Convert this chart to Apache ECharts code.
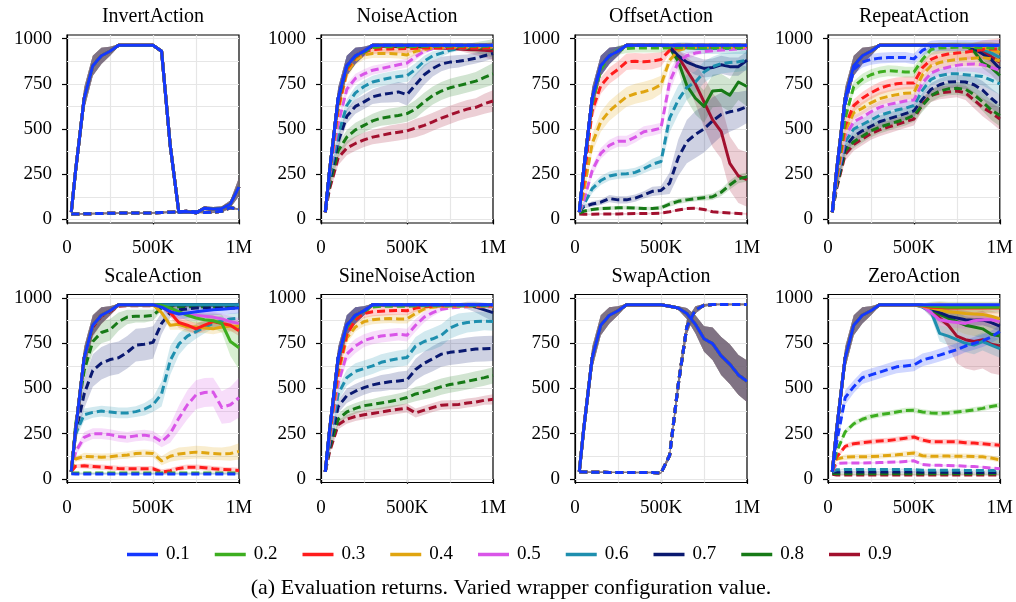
<!DOCTYPE html>
<html>
<head>
<meta charset="utf-8">
<script src="https://cdn.jsdelivr.net/npm/echarts@6/dist/echarts.min.js"></script>
<style>
  html, body { margin: 0; padding: 0; background: #fff; }
  #chart { width: 1016px; height: 602px; }
</style>
</head>
<body>
<div id="chart"></div>
<script>
// Evaluation checkpoints (environment steps)
const steps = [25000, 50000, 100000, 150000, 200000, 250000, 300000, 350000, 400000, 450000, 500000,
               550000, 600000, 650000, 700000, 750000, 800000, 850000, 900000, 950000, 1000000];
const configs = ['0.1', '0.2', '0.3', '0.4', '0.5', '0.6', '0.7', '0.8', '0.9'];
const panelTitles = ['InvertAction', 'NoiseAction', 'OffsetAction', 'RepeatAction',
                     'ScaleAction', 'SineNoiseAction', 'SwapAction', 'ZeroAction'];
const yTickValues = [0, 250, 500, 750, 1000];
const xTickValues = [0, 500000, 1000000];
const xTickLabels = ['0', '500K', '1M'];
const yGridValues = [0, 125, 250, 375, 500, 625, 750, 875, 1000];
const xGridValues = [250000, 500000, 750000];

// Shared learning curve of the unwrapped evaluation
const baseSolid = [40, 270, 670, 850, 905, 930, 963, 963, 963, 963, 963, 963, 963, 963, 963, 963, 963, 963, 963, 963, 963];

// Standard deviations (half band widths)
const spBase   = [4, 50, 60, 55, 45, 25, 6, 4, 4, 4, 4, 4, 4, 4, 4, 4, 4, 4, 4, 4, 4];
const spTight  = [3, 4, 5, 5, 5, 5, 5, 5, 5, 5, 5, 5, 5, 5, 5, 5, 5, 5, 5, 5, 5];
const spSmall  = [3, 10, 15, 15, 15, 15, 15, 15, 15, 15, 15, 15, 15, 15, 15, 15, 15, 15, 15, 15, 15];
const spMid    = [3, 20, 30, 30, 30, 30, 30, 30, 30, 30, 30, 30, 30, 30, 30, 30, 30, 30, 30, 30, 30];
const spWide   = [3, 25, 40, 40, 40, 40, 40, 42, 45, 45, 45, 50, 50, 50, 50, 50, 50, 50, 50, 55, 60];
const spRise   = [3, 20, 30, 30, 25, 25, 25, 25, 25, 25, 25, 20, 15, 10, 8, 6, 5, 5, 5, 5, 5];
const spLateS  = [4, 50, 60, 55, 45, 25, 6, 4, 4, 4, 4, 10, 25, 30, 30, 30, 30, 30, 30, 30, 30];
const spLateM  = [4, 50, 60, 55, 45, 25, 6, 4, 4, 4, 4, 10, 30, 45, 50, 50, 50, 50, 50, 50, 50];
const spLateL  = [4, 50, 60, 55, 45, 25, 6, 4, 4, 4, 4, 15, 50, 80, 90, 90, 90, 90, 90, 100, 110];
const spLateXL = [4, 50, 60, 55, 45, 25, 6, 4, 4, 4, 4, 10, 40, 70, 110, 140, 150, 150, 150, 150, 150];
const spEnd    = [4, 50, 60, 55, 45, 25, 6, 4, 4, 4, 4, 4, 4, 4, 4, 4, 8, 20, 30, 40, 50];

// InvertAction
const invertSolid = [40, 270, 670, 850, 905, 930, 963, 963, 963, 963, 963, 930, 410, 40, 42, 36, 62, 58, 60, 85, 180];
const invertSolidSpread = [4, 50, 60, 55, 45, 25, 6, 4, 4, 4, 4, 10, 20, 10, 6, 8, 10, 10, 12, 20, 50];
const invertDashed = [30, 30, 31, 32, 33, 34, 35, 35, 35, 35, 36, 38, 40, 42, 45, 42, 38, 40, 45, 65, 55];

// SwapAction
const swapSolid = [40, 270, 670, 850, 905, 930, 963, 963, 963, 963, 963, 955, 945, 915, 855, 775, 748, 680, 635, 575, 540];
const swapSolidSpread = [4, 50, 60, 55, 45, 25, 6, 4, 4, 4, 4, 5, 10, 30, 50, 70, 90, 105, 110, 110, 115];
const swapDashed = [40, 38, 37, 37, 36, 36, 36, 35, 35, 35, 32, 130, 520, 840, 935, 960, 965, 965, 965, 965, 965];
const swapDashedSpread = [3, 4, 4, 4, 4, 4, 4, 4, 4, 4, 4, 20, 40, 40, 20, 8, 5, 5, 5, 5, 5];

// NoiseAction
const noiseSolid8 = [40, 270, 670, 850, 905, 930, 960, 960, 960, 958, 958, 958, 956, 955, 955, 953, 952, 950, 950, 948, 946];
const noiseSolid9 = [40, 270, 670, 850, 905, 930, 955, 958, 958, 955, 955, 955, 952, 950, 948, 945, 942, 940, 938, 935, 932];
const noiseDashed2 = [40, 270, 650, 840, 900, 925, 950, 955, 955, 955, 955, 957, 958, 958, 958, 958, 958, 958, 958, 958, 958];
const noiseDashed3 = [40, 265, 620, 830, 895, 925, 940, 942, 943, 944, 945, 947, 948, 948, 948, 948, 948, 948, 948, 948, 948];
const noiseDashed4 = [40, 260, 600, 810, 880, 910, 918, 918, 918, 915, 910, 930, 940, 948, 950, 952, 952, 952, 952, 952, 952];
const noiseDashed5 = [40, 250, 530, 720, 780, 805, 825, 835, 845, 855, 865, 900, 930, 945, 950, 955, 955, 955, 955, 955, 955];
const noiseDashed6 = [40, 230, 470, 630, 700, 735, 760, 772, 782, 790, 795, 830, 875, 905, 920, 935, 945, 948, 950, 950, 950];
const noiseDashed7 = [40, 210, 430, 570, 625, 650, 678, 690, 697, 705, 690, 745, 800, 835, 860, 870, 875, 882, 892, 905, 918];
const noiseDashed8 = [40, 190, 380, 455, 495, 520, 545, 560, 568, 575, 585, 610, 650, 685, 710, 728, 740, 752, 765, 785, 805];
const noiseDashed9 = [40, 170, 340, 395, 420, 440, 455, 465, 475, 482, 490, 505, 520, 540, 560, 578, 595, 610, 620, 640, 655];
const noiseSpread6 = [3, 20, 35, 35, 35, 35, 35, 35, 35, 35, 35, 35, 30, 25, 20, 15, 12, 10, 10, 10, 10];
const noiseSpread7 = [3, 25, 40, 40, 40, 40, 40, 45, 50, 55, 60, 60, 55, 45, 40, 35, 35, 30, 30, 30, 30];

// OffsetAction
const offsetSolid6 = [40, 270, 670, 850, 905, 930, 963, 963, 963, 963, 963, 960, 955, 950, 945, 945, 945, 945, 945, 945, 945];
const offsetSolid7 = [40, 270, 670, 850, 905, 930, 963, 963, 963, 963, 963, 950, 905, 870, 850, 835, 840, 855, 845, 845, 880];
const offsetSolid8 = [40, 270, 670, 850, 905, 930, 963, 963, 963, 963, 963, 950, 875, 740, 670, 625, 710, 715, 687, 760, 735];
const offsetSolid9 = [40, 270, 670, 850, 905, 930, 963, 963, 963, 963, 963, 960, 900, 825, 750, 650, 550, 485, 310, 240, 220];
const offsetDashed2 = [40, 260, 640, 830, 905, 935, 945, 948, 948, 948, 948, 950, 950, 950, 950, 950, 950, 950, 950, 950, 950];
const offsetDashed3 = [40, 200, 600, 740, 795, 830, 872, 875, 872, 875, 885, 935, 948, 952, 955, 955, 955, 955, 955, 955, 955];
const offsetDashed4 = [40, 150, 420, 540, 600, 640, 678, 695, 706, 720, 745, 880, 935, 948, 950, 952, 952, 952, 952, 952, 952];
const offsetDashed5 = [40, 100, 270, 365, 410, 432, 432, 455, 485, 493, 505, 760, 870, 905, 920, 928, 933, 937, 940, 943, 946];
const offsetDashed6 = [40, 80, 170, 215, 240, 250, 252, 260, 280, 305, 320, 560, 660, 730, 760, 815, 845, 862, 868, 872, 880];
const offsetDashed7 = [40, 70, 85, 95, 115, 108, 108, 118, 135, 155, 160, 200, 340, 430, 470, 500, 545, 580, 595, 605, 623];
const offsetDashed8 = [35, 45, 55, 60, 62, 64, 65, 63, 60, 60, 65, 85, 100, 108, 115, 120, 125, 150, 190, 225, 235];
const offsetDashed9 = [30, 28, 28, 30, 30, 30, 31, 32, 32, 33, 35, 42, 52, 60, 62, 55, 42, 38, 35, 33, 30];
const offsetSpread3 = [3, 30, 45, 45, 45, 45, 45, 45, 45, 45, 40, 20, 10, 8, 6, 5, 5, 5, 5, 5, 5];
const offsetSpread4 = [3, 30, 50, 55, 55, 55, 55, 55, 55, 55, 50, 30, 10, 8, 6, 5, 5, 5, 5, 5, 5];
const offsetSpread5 = [3, 20, 30, 30, 30, 30, 30, 30, 30, 30, 30, 60, 40, 20, 15, 12, 10, 10, 10, 10, 10];
const offsetSpread6 = [3, 15, 25, 25, 25, 25, 25, 25, 25, 30, 35, 80, 80, 70, 60, 60, 55, 55, 55, 55, 55];
const offsetSpread7 = [3, 10, 15, 15, 20, 20, 20, 20, 20, 25, 25, 60, 100, 120, 130, 130, 130, 120, 110, 100, 90];
const offsetSpread8 = [3, 8, 10, 10, 10, 10, 10, 10, 10, 10, 12, 15, 15, 15, 15, 15, 18, 20, 25, 25, 25];

// RepeatAction
const repeatSolid4 = [40, 270, 670, 850, 905, 930, 963, 963, 963, 963, 963, 963, 963, 963, 963, 963, 963, 958, 950, 940, 924];
const repeatSolid6 = [40, 270, 670, 850, 905, 930, 963, 963, 963, 963, 963, 963, 963, 963, 963, 963, 960, 955, 940, 920, 896];
const repeatSolid7 = [40, 270, 670, 850, 905, 930, 963, 963, 963, 963, 963, 963, 963, 963, 963, 963, 960, 945, 915, 885, 833];
const repeatSolid8 = [40, 270, 670, 850, 905, 930, 963, 963, 963, 963, 963, 963, 963, 963, 963, 963, 960, 930, 866, 840, 796];
const repeatSolid9 = [40, 270, 670, 850, 905, 930, 963, 963, 963, 963, 963, 963, 963, 963, 963, 963, 960, 950, 935, 900, 870];
const repeatDashed1 = [40, 260, 640, 830, 870, 885, 892, 895, 896, 896, 888, 935, 958, 962, 962, 962, 962, 962, 962, 962, 962];
const repeatDashed2 = [40, 240, 560, 735, 775, 800, 815, 822, 820, 815, 815, 885, 940, 948, 950, 952, 952, 950, 950, 948, 945];
const repeatDashed3 = [40, 230, 520, 630, 670, 700, 725, 740, 750, 755, 755, 840, 885, 905, 915, 920, 925, 932, 940, 942, 942];
const repeatDashed4 = [40, 220, 490, 590, 615, 645, 668, 680, 690, 698, 700, 800, 850, 868, 878, 885, 888, 892, 895, 888, 878];
const repeatDashed5 = [40, 210, 460, 540, 565, 595, 620, 635, 645, 655, 660, 755, 810, 830, 842, 852, 858, 860, 855, 840, 825];
const repeatDashed6 = [40, 200, 430, 500, 525, 550, 575, 590, 605, 615, 630, 715, 775, 795, 805, 805, 800, 795, 790, 770, 750];
const repeatDashed7 = [40, 190, 400, 460, 490, 515, 540, 555, 570, 585, 600, 665, 720, 745, 760, 762, 760, 745, 715, 670, 630];
const repeatDashed8 = [40, 180, 380, 430, 460, 490, 510, 525, 540, 555, 575, 630, 685, 710, 722, 725, 720, 690, 650, 605, 575];
const repeatDashed9 = [40, 170, 360, 415, 445, 475, 495, 510, 525, 540, 555, 640, 685, 700, 705, 710, 700, 660, 620, 590, 555];
const repeatSpread = [3, 25, 35, 35, 35, 35, 35, 35, 35, 35, 35, 35, 35, 35, 35, 35, 40, 45, 50, 55, 60];

// ScaleAction
const scaleSolid1 = [40, 270, 670, 850, 905, 930, 963, 963, 963, 963, 963, 950, 925, 912, 918, 925, 930, 935, 938, 942, 946];
const scaleSolid2 = [40, 270, 670, 850, 905, 930, 963, 963, 963, 963, 963, 960, 945, 925, 905, 890, 880, 875, 860, 760, 725];
const scaleSolid3 = [40, 270, 670, 850, 905, 930, 963, 963, 963, 963, 963, 955, 920, 865, 850, 830, 850, 870, 860, 850, 820];
const scaleSolid4 = [40, 270, 670, 850, 905, 930, 963, 963, 963, 963, 963, 920, 850, 855, 840, 840, 835, 830, 840, 845, 845];
const scaleSolid5 = [40, 270, 670, 850, 905, 930, 963, 963, 963, 963, 963, 955, 935, 920, 910, 905, 900, 895, 885, 870, 860];
const scaleSolidSpread2 = [4, 50, 60, 55, 45, 25, 6, 4, 4, 4, 4, 10, 20, 25, 30, 30, 35, 40, 50, 80, 120];
const scaleDashed1 = [28, 27, 27, 27, 27, 27, 27, 27, 27, 27, 27, 27, 27, 27, 27, 27, 27, 27, 27, 27, 27];
const scaleDashed2 = [32, 32, 32, 32, 32, 32, 32, 32, 32, 32, 32, 32, 32, 32, 32, 32, 32, 32, 32, 32, 32];
const scaleDashed3 = [40, 70, 72, 68, 65, 62, 58, 56, 56, 56, 56, 38, 45, 58, 65, 65, 62, 56, 52, 50, 46];
const scaleDashed4 = [40, 110, 125, 122, 120, 122, 128, 132, 140, 143, 140, 100, 125, 138, 143, 148, 145, 140, 138, 140, 152];
const scaleDashed5 = [40, 150, 230, 250, 250, 245, 235, 230, 238, 242, 235, 205, 250, 335, 410, 465, 478, 480, 395, 410, 450];
const scaleDashed6 = [40, 250, 355, 368, 375, 370, 365, 365, 372, 385, 410, 470, 655, 745, 790, 815, 840, 860, 875, 885, 890];
const scaleDashed7 = [40, 250, 470, 600, 640, 660, 670, 700, 740, 745, 755, 860, 920, 935, 940, 945, 945, 945, 945, 945, 945];
const scaleDashed8 = [40, 300, 600, 760, 810, 825, 870, 895, 900, 900, 905, 945, 950, 952, 952, 952, 952, 952, 952, 952, 952];
const scaleDashed9 = [40, 270, 660, 840, 900, 925, 955, 958, 958, 958, 958, 958, 958, 958, 958, 958, 958, 958, 958, 958, 958];
const scaleSpread4 = [3, 15, 20, 20, 20, 20, 20, 20, 20, 20, 20, 25, 30, 35, 35, 35, 35, 35, 35, 40, 45];
const scaleSpread5 = [3, 20, 30, 30, 30, 30, 30, 30, 30, 30, 30, 30, 50, 70, 80, 80, 80, 80, 90, 100, 110];
const scaleSpread6 = [3, 30, 35, 30, 30, 30, 30, 30, 30, 35, 40, 70, 80, 60, 50, 40, 35, 30, 30, 30, 30];
const scaleSpread7 = [3, 50, 80, 90, 90, 90, 90, 90, 90, 90, 90, 60, 30, 15, 10, 8, 8, 8, 8, 8, 8];
const scaleSpread8 = [3, 40, 60, 60, 60, 60, 50, 40, 35, 35, 30, 15, 10, 8, 6, 5, 5, 5, 5, 5, 5];

// SineNoiseAction
const sineSolid7 = [40, 270, 670, 850, 905, 930, 963, 963, 963, 963, 963, 963, 963, 963, 963, 963, 963, 960, 950, 935, 920];
const sineDashed2 = [40, 265, 650, 840, 900, 928, 950, 955, 955, 955, 955, 958, 958, 958, 958, 958, 958, 958, 958, 958, 958];
const sineDashed3 = [40, 250, 600, 800, 880, 915, 925, 928, 930, 932, 930, 945, 952, 955, 958, 958, 958, 958, 958, 958, 958];
const sineDashed4 = [40, 240, 580, 780, 840, 870, 880, 885, 887, 885, 885, 915, 940, 950, 955, 955, 955, 955, 955, 955, 955];
const sineDashed5 = [40, 220, 530, 690, 735, 765, 780, 790, 795, 800, 795, 850, 895, 920, 938, 945, 950, 952, 952, 952, 952];
const sineDashed6 = [40, 200, 470, 560, 595, 610, 625, 645, 656, 665, 672, 735, 760, 775, 795, 835, 855, 865, 870, 872, 870];
const sineDashed7 = [40, 180, 400, 460, 485, 505, 520, 530, 537, 542, 548, 605, 640, 665, 690, 700, 705, 712, 718, 720, 722];
const sineDashed8 = [40, 170, 330, 370, 390, 405, 412, 420, 428, 438, 450, 470, 480, 495, 510, 522, 530, 540, 550, 560, 572];
const sineDashed9 = [40, 150, 300, 330, 345, 355, 362, 370, 378, 385, 392, 365, 380, 395, 408, 410, 412, 420, 425, 435, 440];
const sineSpread5 = [3, 20, 35, 40, 40, 35, 35, 35, 35, 35, 35, 35, 30, 20, 12, 8, 6, 5, 5, 5, 5];
const sineSpread6 = [3, 30, 40, 45, 45, 45, 45, 45, 45, 45, 45, 50, 55, 60, 60, 60, 60, 55, 55, 50, 50];
const sineSpread7 = [3, 25, 35, 40, 40, 40, 40, 45, 45, 50, 50, 60, 65, 70, 70, 70, 70, 70, 70, 70, 70];
const sineSpread8 = [3, 20, 30, 30, 30, 30, 30, 35, 35, 35, 35, 40, 40, 45, 45, 45, 45, 45, 45, 45, 45];
const sineSpread9 = [3, 15, 25, 25, 25, 25, 25, 25, 25, 25, 25, 25, 25, 25, 25, 25, 25, 25, 25, 25, 28];

// ZeroAction
const zeroSolid2 = [40, 270, 670, 850, 905, 930, 963, 963, 963, 963, 963, 960, 955, 952, 950, 950, 950, 950, 950, 950, 950];
const zeroSolid3 = [40, 270, 670, 850, 905, 930, 963, 963, 963, 963, 963, 958, 950, 948, 945, 945, 945, 945, 945, 945, 945];
const zeroSolid4 = [40, 270, 670, 850, 905, 930, 963, 963, 963, 963, 963, 955, 945, 935, 925, 920, 915, 912, 910, 900, 885];
const zeroSolid5 = [40, 270, 670, 850, 905, 930, 963, 963, 963, 963, 963, 955, 920, 880, 870, 865, 860, 875, 880, 880, 870];
const zeroSolid6 = [40, 270, 670, 850, 905, 930, 963, 963, 963, 963, 963, 950, 925, 805, 790, 770, 750, 740, 760, 740, 720];
const zeroSolid7 = [40, 270, 670, 850, 905, 930, 963, 963, 963, 963, 963, 960, 940, 920, 900, 890, 880, 878, 880, 865, 845];
const zeroSolid8 = [40, 270, 670, 850, 905, 930, 963, 963, 963, 963, 963, 958, 935, 910, 890, 870, 850, 840, 830, 800, 790];
const zeroSolid9 = [40, 270, 670, 850, 905, 930, 963, 963, 963, 963, 963, 955, 930, 890, 850, 790, 770, 760, 770, 745, 735];
const zeroSolidSpread9 = [4, 50, 60, 55, 45, 25, 6, 4, 4, 4, 4, 8, 30, 60, 120, 150, 160, 160, 160, 160, 160];
const zeroDashed1 = [40, 200, 450, 510, 560, 575, 590, 605, 620, 625, 630, 658, 670, 685, 700, 715, 735, 750, 765, 785, 815];
const zeroDashed2 = [40, 150, 260, 305, 330, 345, 355, 362, 370, 378, 380, 370, 365, 362, 365, 370, 375, 382, 390, 400, 408];
const zeroDashed3 = [40, 120, 180, 195, 200, 205, 210, 212, 218, 225, 232, 215, 205, 205, 205, 205, 200, 198, 195, 190, 186];
const zeroDashed4 = [40, 110, 120, 122, 122, 124, 126, 130, 133, 138, 143, 128, 125, 126, 126, 125, 125, 124, 122, 115, 106];
const zeroDashed5 = [40, 85, 88, 88, 88, 89, 90, 92, 93, 96, 100, 80, 75, 75, 74, 73, 70, 68, 65, 60, 56];
const zeroDashed6 = [40, 50, 52, 52, 52, 52, 52, 52, 52, 52, 52, 48, 48, 48, 48, 48, 47, 47, 46, 46, 46];
const zeroDashed7 = [38, 38, 38, 38, 38, 38, 38, 38, 38, 38, 38, 37, 37, 37, 37, 36, 36, 36, 36, 36, 36];
const zeroDashed8 = [30, 28, 28, 28, 28, 28, 28, 28, 28, 28, 28, 28, 28, 28, 28, 28, 28, 28, 28, 28, 28];
const zeroDashed9 = [25, 22, 22, 22, 22, 22, 22, 22, 22, 22, 22, 22, 22, 22, 22, 22, 22, 22, 22, 22, 22];
const zeroSpread1 = [3, 30, 40, 35, 35, 35, 35, 35, 35, 35, 35, 35, 35, 35, 35, 35, 35, 35, 35, 35, 35];

// Per-panel tables, one entry per configuration value 0.1 ... 0.9
const panels = [
  { // InvertAction
    solid: [invertSolid, invertSolid, invertSolid, invertSolid, invertSolid, invertSolid, invertSolid, invertSolid, invertSolid],
    solidSpread: [invertSolidSpread, invertSolidSpread, invertSolidSpread, invertSolidSpread, invertSolidSpread, invertSolidSpread, invertSolidSpread, invertSolidSpread, invertSolidSpread],
    dashed: [invertDashed, invertDashed, invertDashed, invertDashed, invertDashed, invertDashed, invertDashed, invertDashed, invertDashed],
    dashedSpread: [spTight, spTight, spTight, spTight, spTight, spTight, spTight, spTight, spTight]
  },
  { // NoiseAction
    solid: [baseSolid, baseSolid, baseSolid, baseSolid, baseSolid, baseSolid, baseSolid, noiseSolid8, noiseSolid9],
    solidSpread: [spBase, spBase, spBase, spBase, spBase, spBase, spBase, spEnd, spEnd],
    dashed: [baseSolid, noiseDashed2, noiseDashed3, noiseDashed4, noiseDashed5, noiseDashed6, noiseDashed7, noiseDashed8, noiseDashed9],
    dashedSpread: [spBase, spTight, spRise, spRise, spRise, noiseSpread6, noiseSpread7, spWide, spWide]
  },
  { // OffsetAction
    solid: [baseSolid, baseSolid, baseSolid, baseSolid, baseSolid, offsetSolid6, offsetSolid7, offsetSolid8, offsetSolid9],
    solidSpread: [spBase, spBase, spBase, spBase, spBase, spLateS, spLateM, spLateL, spLateXL],
    dashed: [baseSolid, offsetDashed2, offsetDashed3, offsetDashed4, offsetDashed5, offsetDashed6, offsetDashed7, offsetDashed8, offsetDashed9],
    dashedSpread: [spBase, spRise, offsetSpread3, offsetSpread4, offsetSpread5, offsetSpread6, offsetSpread7, offsetSpread8, spTight]
  },
  { // RepeatAction
    solid: [baseSolid, baseSolid, baseSolid, repeatSolid4, baseSolid, repeatSolid6, repeatSolid7, repeatSolid8, repeatSolid9],
    solidSpread: [spBase, spBase, spBase, spEnd, spBase, spEnd, spEnd, spEnd, spEnd],
    dashed: [repeatDashed1, repeatDashed2, repeatDashed3, repeatDashed4, repeatDashed5, repeatDashed6, repeatDashed7, repeatDashed8, repeatDashed9],
    dashedSpread: [spMid, spMid, repeatSpread, repeatSpread, repeatSpread, repeatSpread, repeatSpread, repeatSpread, repeatSpread]
  },
  { // ScaleAction
    solid: [scaleSolid1, scaleSolid2, scaleSolid3, scaleSolid4, scaleSolid5, baseSolid, baseSolid, baseSolid, baseSolid],
    solidSpread: [spLateS, scaleSolidSpread2, spLateS, spLateS, spLateS, spBase, spBase, spBase, spBase],
    dashed: [scaleDashed1, scaleDashed2, scaleDashed3, scaleDashed4, scaleDashed5, scaleDashed6, scaleDashed7, scaleDashed8, scaleDashed9],
    dashedSpread: [spTight, spTight, spSmall, scaleSpread4, scaleSpread5, scaleSpread6, scaleSpread7, scaleSpread8, spBase]
  },
  { // SineNoiseAction
    solid: [baseSolid, baseSolid, baseSolid, baseSolid, baseSolid, baseSolid, sineSolid7, baseSolid, baseSolid],
    solidSpread: [spBase, spBase, spBase, spBase, spBase, spBase, spEnd, spBase, spBase],
    dashed: [baseSolid, sineDashed2, sineDashed3, sineDashed4, sineDashed5, sineDashed6, sineDashed7, sineDashed8, sineDashed9],
    dashedSpread: [spBase, spTight, spRise, spRise, sineSpread5, sineSpread6, sineSpread7, sineSpread8, sineSpread9]
  },
  { // SwapAction
    solid: [swapSolid, swapSolid, swapSolid, swapSolid, swapSolid, swapSolid, swapSolid, swapSolid, swapSolid],
    solidSpread: [swapSolidSpread, swapSolidSpread, swapSolidSpread, swapSolidSpread, swapSolidSpread, swapSolidSpread, swapSolidSpread, swapSolidSpread, swapSolidSpread],
    dashed: [swapDashed, swapDashed, swapDashed, swapDashed, swapDashed, swapDashed, swapDashed, swapDashed, swapDashed],
    dashedSpread: [swapDashedSpread, swapDashedSpread, swapDashedSpread, swapDashedSpread, swapDashedSpread, swapDashedSpread, swapDashedSpread, swapDashedSpread, swapDashedSpread]
  },
  { // ZeroAction
    solid: [baseSolid, zeroSolid2, zeroSolid3, zeroSolid4, zeroSolid5, zeroSolid6, zeroSolid7, zeroSolid8, zeroSolid9],
    solidSpread: [spBase, spLateS, spLateS, spLateS, spLateS, spLateM, spLateS, spLateM, zeroSolidSpread9],
    dashed: [zeroDashed1, zeroDashed2, zeroDashed3, zeroDashed4, zeroDashed5, zeroDashed6, zeroDashed7, zeroDashed8, zeroDashed9],
    dashedSpread: [zeroSpread1, spSmall, spSmall, spSmall, spTight, spTight, spTight, spTight, spTight]
  }
];

// ---- styling ----
const palette = ['#1538ff', '#3dae20', '#ff1c1c', '#e0a510', '#d955e8', '#1e8fae', '#0a1970', '#177a17', '#a2102e'];
const SERIF = '"Liberation Serif", "Times New Roman", serif';
const COL_LEFT = [67, 321, 575, 828];
const ROW_TOP = [35, 294.5];
const PANEL_W = 172, PANEL_H = 188;

function rgba(hex, a) {
  const n = parseInt(hex.slice(1), 16);
  return 'rgba(' + (n >> 16) + ',' + ((n >> 8) & 255) + ',' + (n & 255) + ',' + a + ')';
}

function bandSeries(g, vals, spread, color) {
  return {
    type: 'custom', xAxisIndex: g, yAxisIndex: g, silent: true, z: 10, clip: true,
    data: steps.map((x, i) => [x, vals[i] - spread[i], vals[i] + spread[i]]),
    encode: { x: 0, y: [1, 2] },
    renderItem: function (params, api) {
      if (params.dataIndex !== 0) return null;
      const upper = steps.map((x, i) => api.coord([x, vals[i] + spread[i]]));
      const lower = steps.map((x, i) => api.coord([x, vals[i] - spread[i]])).reverse();
      return { type: 'polygon', shape: { points: upper.concat(lower) }, style: { fill: rgba(color, 0.2) } };
    }
  };
}

function lineSeries(g, name, vals, color, dashed) {
  return {
    type: 'line', name: name, xAxisIndex: g, yAxisIndex: g, silent: true, z: 12,
    data: steps.map((x, i) => [x, vals[i]]),
    showSymbol: false, symbol: 'none', clip: true,
    itemStyle: { color: color },
    lineStyle: { color: color, width: 3, type: dashed ? [8, 4] : 'solid', cap: 'butt', join: 'round' },
    emphasis: { disabled: true }
  };
}

const grids = [], xAxes = [], yAxes = [], series = [], graphics = [];

panels.forEach((p, g) => {
  const left = COL_LEFT[g % 4], top = ROW_TOP[Math.floor(g / 4)];
  grids.push({ left: left, top: top, width: PANEL_W, height: PANEL_H, show: true,
               borderColor: '#000', borderWidth: 1.2, backgroundColor: '#fff' });
  xAxes.push({
    gridIndex: g, type: 'value', min: 0, max: 1000000,
    axisLine: { show: true, lineStyle: { color: '#000', width: 1.2 } },
    axisTick: { show: true, length: 5, customValues: xTickValues, lineStyle: { color: '#000', width: 1.2 } },
    axisLabel: { customValues: xTickValues, margin: 16, color: '#000', fontFamily: SERIF, fontSize: 19,
                 formatter: v => xTickLabels[xTickValues.indexOf(v)] },
    splitLine: { show: false }
  });
  yAxes.push({
    gridIndex: g, type: 'value', min: -20, max: 1020,
    axisLine: { show: true, lineStyle: { color: '#000', width: 1.2 } },
    axisTick: { show: true, length: 5, customValues: yTickValues, lineStyle: { color: '#000', width: 1.2 } },
    axisLabel: { customValues: yTickValues, margin: 15, color: '#000', fontFamily: SERIF, fontSize: 19,
                 formatter: v => String(v) },
    splitLine: { show: false }
  });
  // light grid lines
  series.push({
    type: 'line', xAxisIndex: g, yAxisIndex: g, data: [], silent: true, z: 1,
    markLine: {
      silent: true, symbol: 'none', z: 1, animation: false,
      label: { show: false },
      lineStyle: { color: '#e6e6e6', width: 1.2, type: 'solid' },
      emphasis: { disabled: true },
      data: yGridValues.map(v => ({ yAxis: v })).concat(xGridValues.map(v => ({ xAxis: v })))
    }
  });
  for (let c = 8; c >= 0; c--) {
    series.push(bandSeries(g, p.dashed[c], p.dashedSpread[c], palette[c]));
    series.push(bandSeries(g, p.solid[c], p.solidSpread[c], palette[c]));
  }
  for (let c = 8; c >= 0; c--) {
    series.push(lineSeries(g, configs[c], p.dashed[c], palette[c], true));
    series.push(lineSeries(g, configs[c], p.solid[c], palette[c], false));
  }
  graphics.push({
    type: 'text', x: left + PANEL_W / 2, y: top - 18, silent: true,
    style: { text: panelTitles[g], font: '20px ' + SERIF, fill: '#000',
             textAlign: 'center', textVerticalAlign: 'middle', verticalAlign: 'middle' }
  });
});

graphics.push({
  type: 'text', x: 511, y: 588, silent: true,
  style: { text: '(a) Evaluation returns. Varied wrapper configuration value.', font: '22px ' + SERIF,
           fill: '#000', textAlign: 'center', textVerticalAlign: 'middle', verticalAlign: 'middle' }
});

const chart = echarts.init(document.getElementById('chart'), null, { renderer: 'canvas' });
chart.setOption({
  animation: false,
  backgroundColor: '#fff',
  grid: grids,
  xAxis: xAxes,
  yAxis: yAxes,
  legend: {
    left: 122, top: 540, icon: 'rect', itemWidth: 31, itemHeight: 3.5, itemGap: 25,
    selectedMode: false,
    textStyle: { fontFamily: SERIF, fontSize: 19, color: '#000', padding: [0, 0, 0, 3] },
    data: configs.map((name, i) => ({ name: name, itemStyle: { color: palette[i] } }))
  },
  graphic: graphics,
  series: series
});
</script>
</body>
</html>
